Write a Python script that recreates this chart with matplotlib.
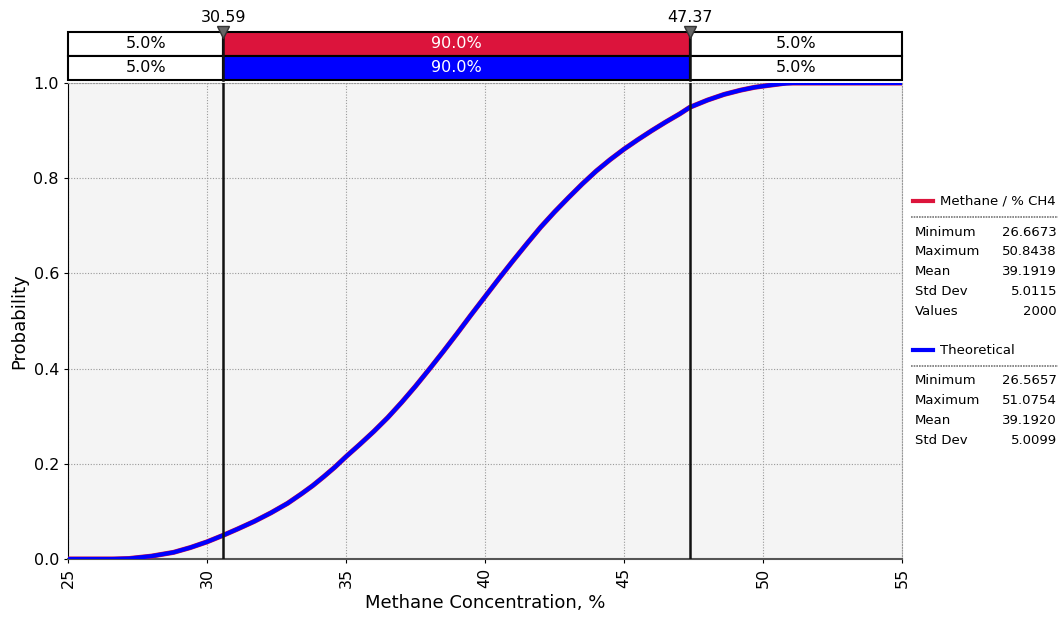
import matplotlib

matplotlib.use("Agg")
import matplotlib.pyplot as plt  # noqa: E402
from matplotlib.patches import Rectangle  # noqa: E402

# cumulative curves
x_fit = [25.0, 26.57, 27.2, 28.0, 28.8, 29.4, 30.0, 30.59, 31.1, 31.7, 32.3, 32.9,
         33.4, 33.8, 34.2, 34.6, 35.0, 35.5, 36.0, 36.5, 37.0, 37.5, 38.0, 38.5,
         39.0, 39.5, 40.0, 40.5, 41.0, 41.5, 42.0, 42.5, 43.0, 43.5, 44.0, 44.5,
         45.0, 45.5, 46.0, 46.5, 47.0, 47.37, 48.0, 48.6, 49.2, 49.7, 50.2, 50.6,
         51.08, 55.0]
p_fit = [0.0, 0.0, 0.001, 0.006, 0.014, 0.024, 0.036, 0.05, 0.063, 0.079, 0.097, 0.117,
         0.137, 0.154, 0.173, 0.193, 0.215, 0.241, 0.268, 0.297, 0.329, 0.363, 0.399, 0.436,
         0.474, 0.513, 0.551, 0.589, 0.626, 0.662, 0.697, 0.729, 0.759, 0.788, 0.815, 0.839,
         0.861, 0.881, 0.900, 0.918, 0.935, 0.949, 0.964, 0.976, 0.985, 0.991, 0.995, 0.998,
         1.0, 1.0]
x_data = [25.0, 26.67, 27.2, 28.0, 28.8, 29.4, 30.0, 30.59, 31.1, 31.7, 32.3, 32.9,
          33.4, 33.8, 34.2, 34.6, 35.0, 35.5, 36.0, 36.5, 37.0, 37.5, 38.0, 38.5,
          39.0, 39.5, 40.0, 40.5, 41.0, 41.5, 42.0, 42.5, 43.0, 43.5, 44.0, 44.5,
          45.0, 45.5, 46.0, 46.5, 47.0, 47.37, 48.0, 48.6, 49.2, 49.7, 50.2, 50.6,
          50.84, 55.0]
p_data = [0.0, 0.0, 0.001, 0.006, 0.014, 0.024, 0.036, 0.05, 0.063, 0.079, 0.097, 0.117,
          0.137, 0.154, 0.173, 0.193, 0.215, 0.241, 0.268, 0.297, 0.329, 0.363, 0.399, 0.436,
          0.474, 0.513, 0.551, 0.589, 0.626, 0.662, 0.697, 0.729, 0.759, 0.788, 0.815, 0.839,
          0.861, 0.881, 0.900, 0.918, 0.935, 0.949, 0.964, 0.976, 0.985, 0.991, 0.995, 0.998,
          1.0, 1.0]

cut_lo, cut_hi = 30.59, 47.37
band_labels = ["5.0%", "90.0%", "5.0%"]

stats_data = [("Minimum", "26.6673"), ("Maximum", "50.8438"), ("Mean", "39.1919"),
              ("Std Dev", "5.0115"), ("Values", "2000")]
stats_fit = [("Minimum", "26.5657"), ("Maximum", "51.0754"), ("Mean", "39.1920"),
             ("Std Dev", "5.0099")]

RED = "#dc143c"
BLUE = "#0000ff"
W, H = 1063, 623

plt.rcParams["font.family"] = ["DejaVu Sans"]
fig = plt.figure(figsize=(W / 100, H / 100), dpi=100)
ax = fig.add_axes([68 / W, 1 - 559 / H, 834 / W, 476 / H])
ax.set_facecolor("#f4f4f4")

ax.plot(x_data, p_data, color=RED, lw=3.6, solid_joinstyle="round", zorder=3)
ax.plot(x_fit, p_fit, color=BLUE, lw=3.0, solid_joinstyle="round", zorder=4)
for c in (cut_lo, cut_hi):
    ax.axvline(c, color="#111111", lw=1.8, zorder=5)

ax.set_xlim(25, 55)
ax.set_ylim(0, 1.0)
ax.set_xticks(range(25, 56, 5))
ax.set_yticks([0, 0.2, 0.4, 0.6, 0.8, 1.0])
ax.set_yticklabels([f"{v:.1f}" for v in [0, 0.2, 0.4, 0.6, 0.8, 1.0]])
ax.tick_params(axis="x", labelrotation=90, labelsize=11.5, length=3)
ax.tick_params(axis="y", labelsize=11.5, length=3)
ax.grid(True, color="#999999", ls=(0, (1, 1.5)), lw=0.8)
ax.spines["left"].set_color("black")
ax.spines["bottom"].set_color("#555555")
ax.spines["bottom"].set_linewidth(1.5)
for s in ("top", "right"):
    ax.spines[s].set_color("#999999")
    ax.spines[s].set_linestyle((0, (1, 1.5)))
ax.set_xlabel("Methane Concentration, %", fontsize=13)
ax.set_ylabel("Probability", fontsize=13)

# percentile bands above the plot
bx = fig.add_axes([68 / W, 1 - 80 / H, 834 / W, 48 / H])
bx.set_xlim(25, 55)
bx.set_ylim(0, 2)
bx.axis("off")
edges = [25, cut_lo, cut_hi, 55]
for row, col in ((1, RED), (0, BLUE)):
    for i in range(3):
        mid = i == 1
        bx.add_patch(Rectangle((edges[i], row), edges[i + 1] - edges[i], 1,
                               facecolor=col if mid else "white", edgecolor="black",
                               lw=1.5, clip_on=False))
        bx.text((edges[i] + edges[i + 1]) / 2, row + 0.5, band_labels[i],
                ha="center", va="center", fontsize=11.5,
                color="white" if mid else "black")
for c in (cut_lo, cut_hi):
    bx.plot([c, c], [0, 2], color="#111111", lw=1.8, clip_on=False)
    bx.plot([c], [2.0], marker="v", ms=8, color="#666666", mec="#333333",
            clip_on=False, zorder=6)
    bx.text(c, 2.3, f"{c:.2f}", ha="center", va="bottom", fontsize=11.5)


# stats panel on the right
def stats_block(y_top, title, color, rows):
    fig.add_artist(plt.Line2D([913 / W, 933 / W], [1 - y_top / H] * 2, color=color, lw=3))
    fig.text(940 / W, 1 - y_top / H, title, fontsize=9.5, va="center")
    fig.add_artist(plt.Line2D([911 / W, 1058 / W], [1 - (y_top + 16) / H] * 2,
                              color="#777777", lw=1.2, ls=(0, (1, 0.6))))
    for k, (name, val) in enumerate(rows):
        yy = 1 - (y_top + 31 + 19.8 * k) / H
        fig.text(915 / W, yy, name, fontsize=9.5, va="center")
        fig.text(1057 / W, yy, val, fontsize=9.5, va="center", ha="right")


stats_block(201, "Methane / % CH4", RED, stats_data)
stats_block(350, "Theoretical", BLUE, stats_fit)

fig.savefig("out.png", dpi=100)
